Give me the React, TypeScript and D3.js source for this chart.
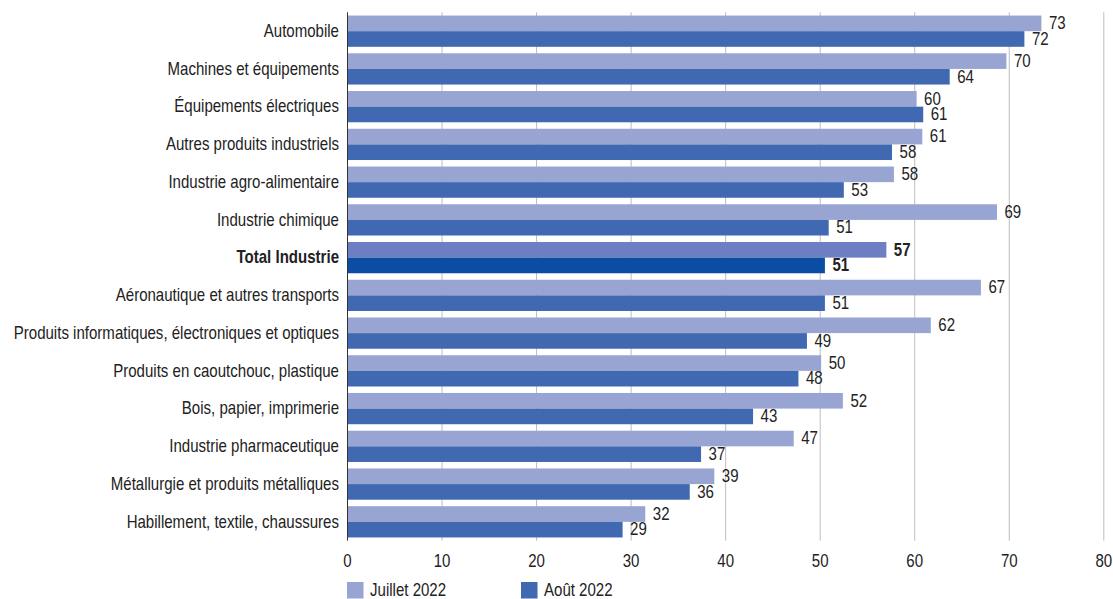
import React from "react";
import * as d3 from "d3";

const categories = [
  "Automobile",
  "Machines et équipements",
  "Équipements électriques",
  "Autres produits industriels",
  "Industrie agro-alimentaire",
  "Industrie chimique",
  "Total Industrie",
  "Aéronautique et autres transports",
  "Produits informatiques, électroniques et optiques",
  "Produits en caoutchouc, plastique",
  "Bois, papier, imprimerie",
  "Industrie pharmaceutique",
  "Métallurgie et produits métalliques",
  "Habillement, textile, chaussures",
];

const juillet = [73.4, 69.7, 60.2, 60.8, 57.8, 68.7, 57.0, 67.0, 61.7, 50.1, 52.4, 47.2, 38.8, 31.5];
const aout = [71.6, 63.7, 60.9, 57.6, 52.5, 50.9, 50.5, 50.5, 48.6, 47.7, 42.9, 37.4, 36.2, 29.1];
const juilletLabels = ["73", "70", "60", "61", "58", "69", "57", "67", "62", "50", "52", "47", "39", "32"];
const aoutLabels = ["72", "64", "61", "58", "53", "51", "51", "51", "49", "48", "43", "37", "36", "29"];
const xTicks = [0, 10, 20, 30, 40, 50, 60, 70, 80];
const seriesNames = ["Juillet 2022", "Août 2022"];
const highlight = "Total Industrie";

const W = 1113;
const H = 599;
const FONT = "'Liberation Sans', Arial, sans-serif";
const FS = 17.5;
const SX = 0.86;
const C_J = "#98A4D2";
const C_A = "#4169B2";
const C_J_T = "#6E7EC2";
const C_A_T = "#0A4DA3";

function T(props: {
  x: number;
  y: number;
  anchor?: "start" | "middle" | "end";
  bold?: boolean;
  children: React.ReactNode;
}) {
  return (
    <text
      transform={`translate(${props.x},${props.y}) scale(${SX},1)`}
      fontSize={FS}
      fill="#222"
      textAnchor={props.anchor || "start"}
      fontWeight={props.bold ? "bold" : "normal"}
    >
      {props.children}
    </text>
  );
}

export default function App() {
  const x = d3.scaleLinear().domain([0, 80]).range([347.5, 1103.8]);
  const y = d3
    .scaleBand<string>()
    .domain(categories)
    .range([12.3, 540.7])
    .paddingInner(0.172)
    .paddingOuter(0.086);
  const bw = y.bandwidth() / 2;
  const off = 5.8;

  return (
    <svg
      width={W}
      height={H}
      style={{ position: "absolute", left: 0, top: 0, background: "#fff" }}
      fontFamily={FONT}
    >
      {xTicks.slice(1).map((t) => (
        <line key={t} x1={x(t)} x2={x(t)} y1={12.3} y2={540.7} stroke="#BDBDBD" strokeWidth={1} />
      ))}
      {categories.map((c, i) => {
        const y0 = y(c)!;
        const isT = c === highlight;
        return (
          <g key={c}>
            <rect x={x(0)} y={y0} width={x(juillet[i]) - x(0)} height={bw} fill={isT ? C_J_T : C_J} />
            <rect x={x(0)} y={y0 + bw} width={x(aout[i]) - x(0)} height={bw} fill={isT ? C_A_T : C_A} />
            <T x={x(juillet[i]) + 7.5} y={y0 + bw / 2 + off} bold={isT}>
              {juilletLabels[i]}
            </T>
            <T x={x(aout[i]) + 7.5} y={y0 + bw * 1.5 + off} bold={isT}>
              {aoutLabels[i]}
            </T>
            <T x={339} y={y0 + bw + off} anchor="end" bold={isT}>
              {c}
            </T>
          </g>
        );
      })}
      <line x1={x(0)} x2={x(0)} y1={12.3} y2={540.7} stroke="#333" strokeWidth={1} />
      {xTicks.map((t) => (
        <T key={t} x={x(t)} y={567.3} anchor="middle">
          {t}
        </T>
      ))}
      {seriesNames.map((s, i) => {
        const lx = [347, 521][i];
        return (
          <g key={s}>
            <rect x={lx} y={582} width={16.5} height={16.5} fill={i === 0 ? C_J : C_A} />
            <T x={lx + 23} y={596}>
              {s}
            </T>
          </g>
        );
      })}
    </svg>
  );
}
